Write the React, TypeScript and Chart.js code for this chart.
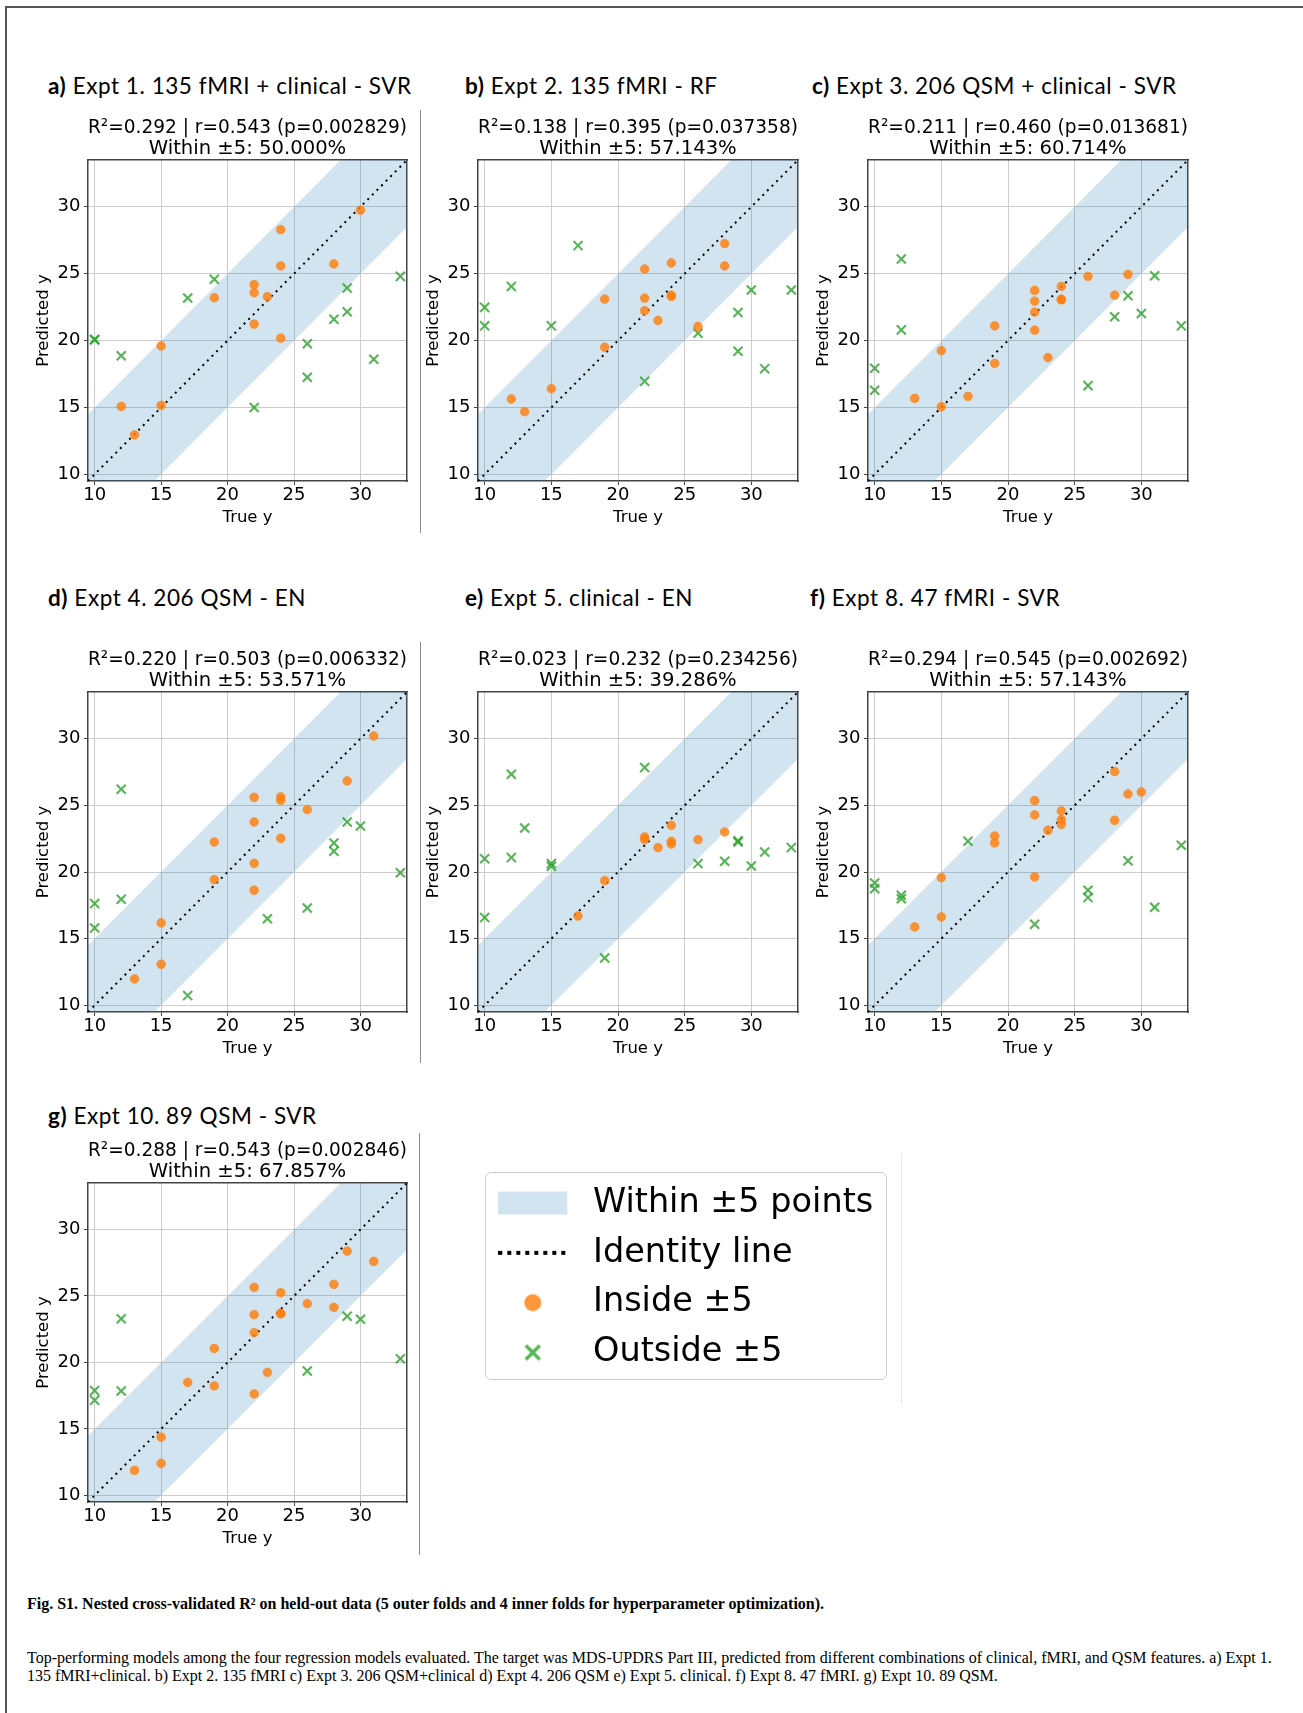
import React, { useEffect, useRef } from 'react';
import { Chart, registerables } from 'chart.js';

Chart.register(...registerables);
Chart.defaults.font.family = "'DejaVu Sans', sans-serif";

type Pt = [number, number];

// ---------------- data ----------------
const AXIS_MIN = 9.5;
const AXIS_MAX = 33.5;
const TOLERANCE = 5;
const TICK_STEP = 5;

const panelLetters = ['a)', 'b)', 'c)', 'd)', 'e)', 'f)', 'g)'];
const panelNames = [
  'Expt 1. 135 fMRI + clinical - SVR',
  'Expt 2. 135 fMRI - RF',
  'Expt 3. 206 QSM + clinical - SVR',
  'Expt 4. 206 QSM - EN',
  'Expt 5. clinical - EN',
  'Expt 8. 47 fMRI - SVR',
  'Expt 10. 89 QSM - SVR',
];
const statsLines = [
  'R²=0.292 | r=0.543 (p=0.002829)',
  'R²=0.138 | r=0.395 (p=0.037358)',
  'R²=0.211 | r=0.460 (p=0.013681)',
  'R²=0.220 | r=0.503 (p=0.006332)',
  'R²=0.023 | r=0.232 (p=0.234256)',
  'R²=0.294 | r=0.545 (p=0.002692)',
  'R²=0.288 | r=0.543 (p=0.002846)',
];
const withinLines = [
  'Within ±5: 50.000%',
  'Within ±5: 57.143%',
  'Within ±5: 60.714%',
  'Within ±5: 53.571%',
  'Within ±5: 39.286%',
  'Within ±5: 57.143%',
  'Within ±5: 67.857%',
];

// [true y, predicted y]
const aInside: Pt[] = [[30, 29.75], [24, 28.3], [24, 25.58], [28, 25.73], [22, 24.18], [22, 23.58], [23, 23.28], [19, 23.2], [22, 21.23], [24, 20.18], [15, 19.6], [12, 15.08], [15, 15.15], [13, 12.95]];
const aOutside: Pt[] = [[10, 20.1], [10, 20.05], [12, 18.86], [17, 23.18], [19, 24.58], [22, 15.0], [26, 19.76], [26, 17.26], [28, 21.6], [29, 23.93], [29, 22.15], [31, 18.6], [33, 24.8]];

const bInside: Pt[] = [[28, 27.25], [28, 25.58], [24, 25.8], [22, 25.35], [24, 23.4], [24, 23.3], [22, 23.18], [19, 23.1], [22, 22.23], [23, 21.5], [26, 21.05], [19, 19.5], [15, 16.4], [12, 15.63], [13, 14.68]];
const bOutside: Pt[] = [[10, 22.48], [10, 21.1], [12, 24.05], [15, 21.1], [17, 27.1], [22, 16.95], [26, 20.55], [29, 22.1], [29, 19.2], [30, 23.78], [31, 17.9], [33, 23.78]];

const cInside: Pt[] = [[29, 24.95], [26, 24.8], [24, 24.05], [22, 23.75], [28, 23.4], [24, 23.05], [24, 23.1], [22, 22.95], [22, 22.13], [19, 21.1], [22, 20.78], [15, 19.25], [23, 18.73], [19, 18.3], [17, 15.83], [13, 15.68], [15, 15.05]];
const cOutside: Pt[] = [[10, 17.93], [10, 16.28], [12, 26.1], [12, 20.8], [26, 16.63], [28, 21.78], [29, 23.35], [30, 22.03], [31, 24.85], [33, 21.1]];

const dInside: Pt[] = [[31, 30.2], [29, 26.83], [22, 25.6], [24, 25.63], [24, 25.38], [26, 24.68], [22, 23.75], [24, 22.53], [19, 22.25], [22, 20.65], [19, 19.43], [22, 18.63], [15, 16.18], [15, 13.08], [13, 11.98]];
const dOutside: Pt[] = [[10, 17.63], [10, 15.8], [12, 26.2], [12, 17.95], [17, 10.73], [23, 16.5], [26, 17.3], [28, 22.18], [28, 21.55], [29, 23.75], [30, 23.45], [33, 19.95]];

const eInside: Pt[] = [[28, 23.0], [24, 23.5], [22, 22.63], [22, 22.43], [23, 21.83], [24, 22.3], [24, 22.1], [26, 22.43], [19, 19.35], [17, 16.7]];
const eOutside: Pt[] = [[10, 21.0], [10, 16.58], [12, 27.33], [12, 21.08], [13, 23.3], [15, 20.63], [15, 20.43], [19, 13.55], [22, 27.83], [26, 20.63], [28, 20.8], [29, 22.25], [29, 22.35], [30, 20.45], [31, 21.5], [33, 21.83]];

const fInside: Pt[] = [[28, 27.53], [29, 25.85], [30, 26.0], [22, 25.35], [22, 24.28], [24, 24.58], [24, 23.93], [24, 23.58], [28, 23.88], [23, 23.13], [19, 22.7], [19, 22.18], [22, 19.63], [15, 19.58], [15, 16.63], [13, 15.88]];
const fOutside: Pt[] = [[10, 19.18], [10, 18.75], [12, 18.25], [12, 18.0], [17, 22.3], [22, 16.08], [26, 18.63], [26, 18.08], [29, 20.85], [31, 17.35], [33, 22.0]];

const gInside: Pt[] = [[29, 28.38], [31, 27.6], [28, 25.88], [22, 25.65], [24, 25.25], [26, 24.43], [28, 24.15], [22, 23.6], [24, 23.7], [24, 23.65], [22, 22.25], [19, 21.05], [23, 19.25], [17, 18.5], [19, 18.23], [22, 17.63], [15, 14.38], [15, 12.4], [13, 11.88]];
const gOutside: Pt[] = [[10, 17.88], [10, 17.15], [12, 23.28], [12, 17.85], [26, 19.35], [29, 23.48], [30, 23.25], [33, 20.28]];

const insideSets = [aInside, bInside, cInside, dInside, eInside, fInside, gInside];
const outsideSets = [aOutside, bOutside, cOutside, dOutside, eOutside, fOutside, gOutside];

const legendLabels = ['Within ±5 points', 'Identity line', 'Inside ±5', 'Outside ±5'];

const captionTitle = 'Fig. S1. Nested cross-validated R² on held-out data (5 outer folds and 4 inner folds for hyperparameter optimization).';
const captionLine1 = 'Top-performing models among the four regression models evaluated. The target was MDS-UPDRS Part III, predicted from different combinations of clinical, fMRI, and QSM features. a) Expt 1.';
const captionLine2 = '135 fMRI+clinical. b) Expt 2. 135 fMRI c) Expt 3. 206 QSM+clinical d) Expt 4. 206 QSM e) Expt 5. clinical. f) Expt 8. 47 fMRI. g) Expt 10. 89 QSM.';

// ---------------- styles / layout ----------------
const ORANGE = 'rgba(255,127,14,0.82)';
const GREEN = 'rgba(44,160,44,0.8)';
const BAND = 'rgba(31,119,180,0.2)';
const GRID = '#cccccc';
const FRAME = '#444444';

// plot-area left, top, width, height ; header left, header top
const layout = [
  { L: 88, T: 160, W: 319, H: 321, hx: 48, hy: 73 },
  { L: 478, T: 160, W: 320, H: 321, hx: 465, hy: 73 },
  { L: 868, T: 160, W: 320, H: 321, hx: 812, hy: 73 },
  { L: 88, T: 692, W: 319, H: 320, hx: 48, hy: 585 },
  { L: 478, T: 692, W: 320, H: 320, hx: 465, hy: 585 },
  { L: 868, T: 692, W: 320, H: 320, hx: 810, hy: 585 },
  { L: 88, T: 1183, W: 319, H: 319, hx: 48, hy: 1103 },
];
const Y_AXIS_W = 60;
const X_AXIS_H = 50;
const TITLE_H = 43;
const RIGHT_PAD = 12;

const toXY = (pts: Pt[]) => pts.map(([x, y]) => ({ x, y }));

function Panel({ idx }: { idx: number }) {
  const ref = useRef<HTMLCanvasElement>(null);
  const lay = layout[idx];
  const cw = Y_AXIS_W + lay.W + RIGHT_PAD;
  const ch = TITLE_H + lay.H + X_AXIS_H;
  useEffect(() => {
    const identity = [{ x: AXIS_MIN, y: AXIS_MIN }, { x: AXIS_MAX, y: AXIS_MAX }];
    const upper = identity.map((p) => ({ x: p.x, y: p.y + TOLERANCE }));
    const lower = identity.map((p) => ({ x: p.x, y: p.y - TOLERANCE }));
    const tickFont = { size: 18, family: "'DejaVu Sans', sans-serif" };
    const labelFont = { size: 16.5, family: "'DejaVu Sans', sans-serif", lineHeight: 1.2 };
    const chart = new Chart(ref.current!, {
      type: 'scatter',
      data: {
        datasets: [
          {
            label: 'Inside ±5',
            data: toXY(insideSets[idx]),
            pointStyle: 'circle',
            pointRadius: 4.4,
            pointHoverRadius: 4.4,
            pointBorderWidth: 0.6,
            pointBackgroundColor: ORANGE,
            pointBorderColor: ORANGE,
            order: 1,
          } as any,
          {
            label: 'Outside ±5',
            data: toXY(outsideSets[idx]),
            pointStyle: 'crossRot',
            pointRadius: 6.4,
            pointHoverRadius: 6.4,
            pointBorderWidth: 2.1,
            pointBorderColor: GREEN,
            pointBackgroundColor: GREEN,
            order: 2,
          },
          {
            type: 'line',
            label: 'Identity line',
            data: identity,
            borderColor: '#000000',
            borderWidth: 2,
            borderDash: [2, 4.5],
            pointRadius: 0,
            fill: false,
            order: 3,
          },
          {
            type: 'line',
            label: 'band upper',
            data: upper,
            borderWidth: 0,
            borderColor: 'rgba(0,0,0,0)',
            backgroundColor: BAND,
            pointRadius: 0,
            fill: '+1',
            order: 4,
          },
          {
            type: 'line',
            label: 'band lower',
            data: lower,
            borderWidth: 0,
            borderColor: 'rgba(0,0,0,0)',
            pointRadius: 0,
            fill: false,
            order: 5,
          },
        ] as any,
      },
      options: {
        animation: false,
        responsive: false,
        devicePixelRatio: 1,
        events: [],
        layout: { padding: { left: 0, right: RIGHT_PAD, top: 0, bottom: 0 } },
        scales: {
          x: {
            type: 'linear',
            position: 'bottom',
            min: AXIS_MIN,
            max: AXIS_MAX,
            afterFit: (s: any) => { s.height = X_AXIS_H; },
            ticks: { stepSize: TICK_STEP, includeBounds: false, padding: 0, color: '#000', font: tickFont, maxRotation: 0, autoSkip: false },
            grid: { color: GRID, lineWidth: 1, tickColor: FRAME, tickLength: 4, drawTicks: true },
            border: { display: true, color: FRAME, width: 1.5 },
            title: { display: true, text: 'True y', color: '#000', font: labelFont, padding: { top: 0, bottom: 3.2 } },
          },
          y: {
            type: 'linear',
            position: 'left',
            min: AXIS_MIN,
            max: AXIS_MAX,
            afterFit: (s: any) => { s.width = Y_AXIS_W; },
            ticks: { stepSize: TICK_STEP, includeBounds: false, padding: 3.5, color: '#000', font: tickFont, autoSkip: false },
            grid: { color: GRID, lineWidth: 1, tickColor: FRAME, tickLength: 4, drawTicks: true },
            border: { display: true, color: FRAME, width: 1.5 },
            title: { display: true, text: 'Predicted y', color: '#000', font: labelFont, padding: { top: 6.1, bottom: 0 } },
          },
          x2: {
            type: 'linear',
            position: 'top',
            min: AXIS_MIN,
            max: AXIS_MAX,
            afterFit: (s: any) => { s.height = 0; },
            ticks: { display: false },
            grid: { display: true, color: 'rgba(0,0,0,0)', drawTicks: false },
            border: { display: true, color: FRAME, width: 1.5 },
          },
          y2: {
            type: 'linear',
            position: 'right',
            min: AXIS_MIN,
            max: AXIS_MAX,
            afterFit: (s: any) => { s.width = 0; },
            ticks: { display: false },
            grid: { display: true, color: 'rgba(0,0,0,0)', drawTicks: false },
            border: { display: true, color: FRAME, width: 1.5 },
          },
        } as any,
        plugins: {
          legend: { display: false },
          tooltip: { enabled: false },
          title: {
            display: true,
            text: [statsLines[idx], withinLines[idx]],
            fullSize: false,
            align: 'center',
            color: '#000',
            font: { size: 19.6, weight: 'normal', lineHeight: '21.5px', family: "'DejaVu Sans', sans-serif" },
            padding: { top: 0, bottom: 0 },
          },
        } as any,
      },
    });
    return () => chart.destroy();
  }, [idx]);

  return (
    <>
      <div
        style={{
          position: 'absolute',
          left: lay.hx,
          top: lay.hy,
          fontFamily: 'Lato, sans-serif',
          fontSize: 22.5,
          letterSpacing: '0.55px',
          lineHeight: '26px',
          whiteSpace: 'nowrap',
          color: '#000',
        }}
      >
        <span style={{ fontWeight: 700 }}>{panelLetters[idx]}</span> {panelNames[idx]}
      </div>
      <canvas
        ref={ref}
        width={cw}
        height={ch}
        style={{ position: 'absolute', left: lay.L - Y_AXIS_W, top: lay.T - TITLE_H, width: cw, height: ch }}
      />
    </>
  );
}

function LegendChart() {
  const ref = useRef<HTMLCanvasElement>(null);
  useEffect(() => {
    const mk = (draw: (g: CanvasRenderingContext2D) => void) => {
      const c = document.createElement('canvas');
      c.width = 78;
      c.height = 34;
      const g = c.getContext('2d')!;
      draw(g);
      return c;
    };
    const symbols = [
      mk((g) => { g.fillStyle = BAND; g.fillRect(0, 5.5, 69, 23); }),
      mk((g) => {
        g.strokeStyle = '#000';
        g.lineWidth = 4;
        g.setLineDash([4, 5]);
        g.beginPath(); g.moveTo(0, 17); g.lineTo(67, 17); g.stroke();
      }),
      mk((g) => { g.fillStyle = ORANGE; g.beginPath(); g.arc(34.5, 17, 8.5, 0, Math.PI * 2); g.fill(); }),
      mk((g) => {
        g.strokeStyle = GREEN; g.lineWidth = 3.5;
        g.beginPath();
        g.moveTo(27.5, 10); g.lineTo(41.5, 24);
        g.moveTo(41.5, 10); g.lineTo(27.5, 24);
        g.stroke();
      }),
    ];
    const chart = new Chart(ref.current!, {
      type: 'scatter',
      data: { datasets: legendLabels.map((l) => ({ label: l, data: [] })) },
      options: {
        animation: false,
        responsive: false,
        devicePixelRatio: 1,
        events: [],
        layout: { padding: 0 },
        scales: { x: { display: false }, y: { display: false } },
        plugins: {
          tooltip: { enabled: false },
          title: { display: false },
          legend: {
            display: true,
            position: 'left',
            align: 'start',
            maxWidth: 1000,
            labels: {
              usePointStyle: true,
              pointStyleWidth: 78,
              boxHeight: 33,
              padding: 16.3,
              color: '#000',
              font: { size: 33.5, family: "'DejaVu Sans', sans-serif" },
              generateLabels: () =>
                legendLabels.map((t, i) => ({
                  text: t,
                  pointStyle: symbols[i],
                  fillStyle: 'rgba(0,0,0,0)',
                  strokeStyle: 'rgba(0,0,0,0)',
                  lineWidth: 0,
                  hidden: false,
                  datasetIndex: i,
                  fontColor: '#000',
                })) as any,
            },
          },
        } as any,
      },
    });
    return () => chart.destroy();
  }, []);
  return (
    <canvas
      ref={ref}
      width={420}
      height={230}
      style={{ position: 'absolute', left: 481.7, top: 1170, width: 420, height: 230 }}
    />
  );
}

export default function App() {
  const line = (s: React.CSSProperties) => <div style={{ position: 'absolute', ...s }} />;
  return (
    <div style={{ position: 'absolute', left: 0, top: 0, width: 1303, height: 1713, background: '#fff', overflow: 'hidden' }}>
      {line({ left: 5, top: 6, width: 1298, height: 2, background: '#555' })}
      {line({ left: 5, top: 6, width: 2, height: 1707, background: '#555' })}
      {line({ left: 420, top: 110, width: 1, height: 423, background: '#8c8c8c' })}
      {line({ left: 420, top: 642, width: 1, height: 421, background: '#8c8c8c' })}
      {line({ left: 419, top: 1133, width: 1, height: 422, background: '#8c8c8c' })}
      {line({ left: 901, top: 1153, width: 1, height: 250, background: '#e6e6e6' })}
      <div
        style={{
          position: 'absolute',
          left: 485,
          top: 1172,
          width: 402,
          height: 208,
          boxSizing: 'border-box',
          border: '1.5px solid #d0d0d0',
          borderRadius: 6,
        }}
      />
      {layout.map((_, i) => (
        <Panel key={i} idx={i} />
      ))}
      <LegendChart />
      <div
        style={{
          position: 'absolute',
          left: 27,
          top: 1594.5,
          fontFamily: '"Liberation Serif", serif',
          fontWeight: 700,
          fontSize: 16,
          lineHeight: '18.5px',
          whiteSpace: 'nowrap',
          color: '#000',
        }}
      >
        {captionTitle}
      </div>
      <div
        style={{
          position: 'absolute',
          left: 27,
          top: 1648.5,
          fontFamily: '"Liberation Serif", serif',
          fontSize: 16,
          lineHeight: '18.5px',
          whiteSpace: 'nowrap',
          color: '#000',
        }}
      >
        {captionLine1}
        <br />
        {captionLine2}
      </div>
    </div>
  );
}
